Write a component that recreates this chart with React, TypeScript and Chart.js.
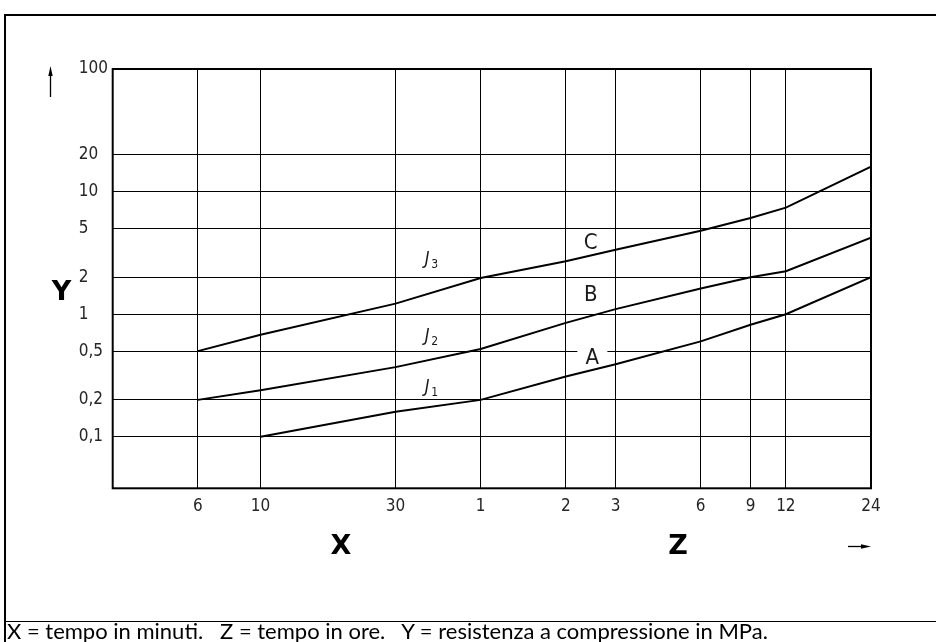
import React, { useEffect, useRef } from "react";
import { Chart, registerables } from "chart.js";

Chart.register(...registerables);

// Time axis: minutes (X) up to 30, then hours (Z); values are in minutes.
const timeTicks = [6, 10, 30, 60, 120, 180, 360, 540, 720, 1440];
const timeTickLabels = ["6", "10", "30", "1", "2", "3", "6", "9", "12", "24"];

// Compressive strength axis (MPa), logarithmic.
const strengthTicks = [0.1, 0.2, 0.5, 1, 2, 5, 10, 20, 100];
const strengthTickLabels = ["0,1", "0,2", "0,5", "1", "2", "5", "10", "20", "100"];

// Curve C (J3)
const curveCTimes = [6, 10, 30, 60, 120, 180, 360, 540, 720, 1440];
const curveCValues = [0.5, 0.68, 1.22, 1.97, 2.7, 3.35, 4.8, 6.1, 7.4, 16];

// Curve B (J2)
const curveBTimes = [6, 10, 30, 60, 120, 180, 360, 540, 720, 1440];
const curveBValues = [0.2, 0.24, 0.37, 0.52, 0.85, 1.1, 1.62, 2.0, 2.24, 4.2];

// Curve A (J1)
const curveATimes = [10, 30, 60, 120, 180, 360, 540, 720, 1440];
const curveAValues = [0.1, 0.16, 0.2, 0.31, 0.39, 0.6, 0.82, 1.0, 2.0];

// Letter labels of the curves
const curveNames = ["C", "B", "A"];
const curveNameTimes = [147, 147, 149];
const curveNameValues = [3.78, 1.42, 0.44];

// Class labels J3, J2, J1
const classSubscripts = ["3", "2", "1"];
const classLabelTime = 40;
const classLabelValues = [2.8, 0.66, 0.257];

const TICK_FONT = "'Liberation Sans Narrow', 'DejaVu Sans Condensed', sans-serif";
const BOLD_FONT = "'DejaVu Sans', 'Liberation Sans', sans-serif";

const toPoints = (xs: number[], ys: number[]) => xs.map((x, i) => ({ x, y: ys[i] }));

const lineStyle = {
  borderColor: "#000",
  borderWidth: 2,
  pointRadius: 0,
  tension: 0,
  fill: false,
};

const decorPlugin = {
  id: "decor",
  beforeDatasetsDraw(chart: any) {
    const { ctx, scales } = chart;
    // white gap in the grid behind the "A" label
    const i = 2;
    const x = scales.x.getPixelForValue(curveNameTimes[i]);
    const y = scales.y.getPixelForValue(curveNameValues[i]);
    ctx.save();
    ctx.fillStyle = "#fff";
    ctx.fillRect(x - 15, y - 9, 30, 18);
    ctx.restore();
  },
  afterDatasetsDraw(chart: any) {
    const { ctx, scales, chartArea } = chart;
    const xs = scales.x;
    const ys = scales.y;
    ctx.save();

    // plot frame
    ctx.strokeStyle = "#000";
    ctx.lineWidth = 2;
    ctx.strokeRect(chartArea.left, chartArea.top, chartArea.right - chartArea.left, chartArea.bottom - chartArea.top);

    // curve letters
    ctx.fillStyle = "#1a1a1a";
    ctx.textAlign = "center";
    ctx.textBaseline = "middle";
    ctx.font = `22px ${TICK_FONT}`;
    curveNames.forEach((name, i) => {
      ctx.fillText(name, xs.getPixelForValue(curveNameTimes[i]), ys.getPixelForValue(curveNameValues[i]));
    });

    // J labels with subscripts
    classSubscripts.forEach((sub, i) => {
      const x = xs.getPixelForValue(classLabelTime);
      const y = ys.getPixelForValue(classLabelValues[i]);
      ctx.textAlign = "left";
      ctx.textBaseline = "alphabetic";
      ctx.font = `italic 18px ${TICK_FONT}`;
      ctx.fillText("J", x - 6, y + 5);
      ctx.font = `12px ${TICK_FONT}`;
      ctx.fillText(sub, x + 0.5, y + 9);
    });

    // axis symbols
    ctx.fillStyle = "#000";
    ctx.font = `bold 27px ${BOLD_FONT}`;
    ctx.textAlign = "center";
    ctx.textBaseline = "middle";
    ctx.fillText("Y", 61.5, 293);
    ctx.fillText("X", 341, 547);
    ctx.fillText("Z", 678, 547);

    // up arrow next to the strength axis
    ctx.strokeStyle = "#000";
    ctx.lineWidth = 1.3;
    ctx.beginPath();
    ctx.moveTo(50.5, 97);
    ctx.lineTo(50.5, 74);
    ctx.stroke();
    ctx.beginPath();
    ctx.moveTo(50.5, 66);
    ctx.lineTo(48.3, 76);
    ctx.lineTo(52.7, 76);
    ctx.closePath();
    ctx.fill();

    // right arrow under the time axis
    ctx.beginPath();
    ctx.moveTo(848, 546.5);
    ctx.lineTo(863, 546.5);
    ctx.stroke();
    ctx.beginPath();
    ctx.moveTo(871, 546.5);
    ctx.lineTo(861, 544.3);
    ctx.lineTo(861, 548.7);
    ctx.closePath();
    ctx.fill();

    ctx.restore();
  },
};

export default function App() {
  const canvasRef = useRef<HTMLCanvasElement | null>(null);

  useEffect(() => {
    const canvas = canvasRef.current;
    if (!canvas) return;
    const chart = new Chart(canvas, {
      type: "line",
      data: {
        datasets: [
          { label: "C", data: toPoints(curveCTimes, curveCValues), ...lineStyle },
          { label: "B", data: toPoints(curveBTimes, curveBValues), ...lineStyle },
          { label: "A", data: toPoints(curveATimes, curveAValues), ...lineStyle },
        ],
      },
      options: {
        animation: false,
        responsive: false,
        maintainAspectRatio: false,
        layout: { padding: { left: 78.7, top: 69, right: 65, bottom: 123.7 } },
        plugins: { legend: { display: false }, tooltip: { enabled: false } },
        scales: {
          x: {
            type: "logarithmic",
            min: 3,
            max: 1440,
            afterBuildTicks: (s: any) => {
              s.ticks = timeTicks.map((v) => ({ value: v }));
            },
            afterFit: (s: any) => {
              s.height = 30;
            },
            grid: { color: "#000", lineWidth: 1, drawTicks: false },
            border: { display: false },
            ticks: {
              autoSkip: false,
              maxRotation: 0,
              padding: 8,
              color: "#262626",
              font: { family: TICK_FONT, size: 17 },
              callback: (_v: any, i: number) => timeTickLabels[i],
            },
          },
          y: {
            type: "logarithmic",
            min: 0.038,
            max: 100,
            afterBuildTicks: (s: any) => {
              s.ticks = strengthTicks.map((v) => ({ value: v }));
            },
            afterFit: (s: any) => {
              s.width = 34;
            },
            grid: { color: "#000", lineWidth: 1, drawTicks: false },
            border: { display: false },
            ticks: {
              autoSkip: false,
              crossAlign: "far",
              padding: 0,
              color: "#262626",
              font: { family: TICK_FONT, size: 17 },
              callback: (_v: any, i: number) => strengthTickLabels[i],
            },
          },
        },
      } as any,
      plugins: [decorPlugin],
    });
    return () => chart.destroy();
  }, []);

  return (
    <div style={{ position: "fixed", left: 0, top: 0, width: 936, height: 642, background: "#fff", overflow: "hidden" }}>
      <div
        style={{
          position: "absolute",
          left: 4,
          top: 14,
          width: 960,
          height: 700,
          borderLeft: "2px solid #000",
          borderTop: "2px solid #000",
        }}
      />
      <div style={{ position: "absolute", left: 4, top: 621, width: 940, height: 0, borderTop: "1.5px solid #000" }} />
      <canvas ref={canvasRef} width={936} height={642} style={{ position: "absolute", left: 0, top: 0 }} />
      <div
        style={{
          position: "absolute",
          left: 7,
          top: 620,
          fontFamily: "Lato, 'Open Sans', sans-serif",
          fontSize: 22,
          lineHeight: "22px",
          whiteSpace: "pre",
          color: "#000",
        }}
      >
        {"X = tempo in minuti.   Z = tempo in ore.   Y = resistenza a compressione in MPa."}
      </div>
    </div>
  );
}
